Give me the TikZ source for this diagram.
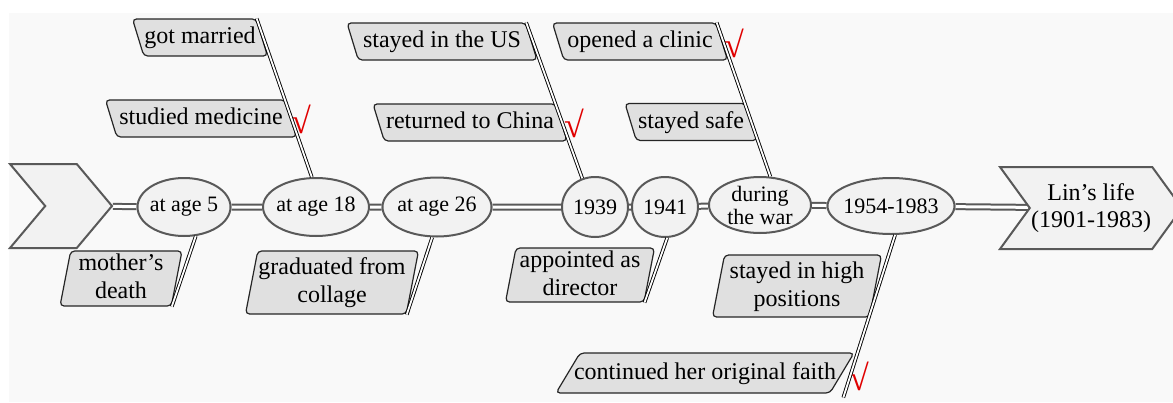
\documentclass[tikz,border=0pt]{standalone}
\usepackage{fontspec}
\setmainfont{Liberation Serif}
\usetikzlibrary{shapes.geometric,shapes.symbols,positioning,backgrounds}
\definecolor{bgcol}{HTML}{F9F9F9}
\definecolor{ovalfill}{HTML}{F2F2F2}
\definecolor{ovaldraw}{HTML}{595959}
\definecolor{boxfill}{HTML}{E0E0E0}
\definecolor{tickred}{HTML}{E00000}

\begin{document}
\begin{tikzpicture}[
x=0.5pt, y=-0.5pt,
oval/.style = {ellipse, draw=ovaldraw, fill=ovalfill, line width=1pt, inner xsep=-5pt, inner ysep=-4pt,
               font=\fontsize{11}{11.5}\selectfont, align=center},
box/.style = {trapezium, trapezium stretches body, draw=black!85, fill=boxfill, line width=0.6pt,
              rounded corners=2pt, inner xsep=0pt, align=center, text height=9pt, text depth=3pt,
              font=\fontsize{12}{14}\selectfont, minimum width=#1},
upbox/.style = {box=#1, inner ysep=3.25pt, trapezium left angle=107, trapezium right angle=73},
downbox/.style = {box=#1, text height=23pt, trapezium left angle=79, trapezium right angle=101},
arrowbox/.style = {signal, signal from=west, signal to=east, draw=ovaldraw, fill=ovalfill,
                   line width=1pt, inner sep=0pt, align=center, font=\fontsize{12}{13.5}\selectfont},
spine/.style = {draw=ovaldraw, line width=1pt, double=white, double distance=1.5pt},
link/.style = {draw=black, line width=0.45pt, double=white, double distance=0.9pt},
okmark/.style = {text=tickred, font=\fontsize{18}{18}\selectfont, inner sep=0pt}
                    ]
\useasboundingbox (0,0) rectangle (1173,402);

    \node[arrowbox, signal pointer angle=100, minimum width=51pt, minimum height=42pt] (start) at (61,206) {};
    \node[arrowbox, signal pointer angle=108, minimum width=91pt, minimum height=41pt] (life) at (1091,208)
        {Lin’s life\\(1901-1983)};

    \node[oval, minimum width=46.5pt, minimum height=29pt] (a5) at (184,207) {at age 5};
    \node[oval, minimum width=53pt, minimum height=29pt] (a18) at (316,207) {at age 18};
    \node[oval, minimum width=54.5pt, minimum height=29.5pt] (a26) at (437,207) {at age 26};
    \node[oval, minimum width=33pt, minimum height=30pt] (y39) at (595,207) {1939};
    \node[oval, minimum width=33pt, minimum height=30pt] (y41) at (665,207) {1941};
    \node[oval, minimum width=51pt, minimum height=28pt] (war) at (760,205) {during\\the war};
    \node[oval, minimum width=63.5pt, minimum height=28pt] (y54) at (891,206) {1954-1983};

    \node[upbox=67.5pt] (gm) at (200,37.5) {got married};
    \node[upbox=95.5pt] (sm) at (201,118.5) {studied medicine};
    \node[upbox=95pt] (us) at (442,41.5) {stayed in the US};
    \node[upbox=97pt] (rc) at (470,122.5) {returned to China};
    \node[upbox=87.5pt] (oc) at (640,41.5) {opened a clinic};
    \node[upbox=66pt] (ss) at (691,122) {stayed safe};

    \node[downbox=61pt, inner ysep=0.75pt] (md) at (121,278.5) {mother’s\\death};
    \node[downbox=86.5pt, inner ysep=2.75pt] (gc) at (332,282.5) {graduated from\\collage};
    \node[downbox=74.5pt, inner ysep=0.5pt] (ad) at (580,275) {appointed as\\director};
    \node[downbox=84.5pt, inner ysep=2.5pt] (hp) at (797,286) {stayed in high\\positions};
    \node[box=147pt, inner ysep=4pt, inner xsep=-3pt,
          trapezium left angle=59, trapezium right angle=121] (cf) at (705,373) {continued her original faith};

    \node[okmark] (smok) at (301,119) {√};
    \node[okmark] (rcok) at (574,123) {√};
    \node[okmark] (ocok) at (734,43) {√};
    \node[okmark] (cfok) at (859,376) {√};

    \begin{scope}[on background layer]
    \fill[bgcol] (9,13) rectangle (1173,402);
    \draw[spine] (start) -- (a5) -- (a18) -- (a26) -- (y39) -- (y41) -- (war) -- (y54) -- (life);
    \end{scope}

    \draw[link] (md.bottom right corner) -- (a5.-68);
    \draw[link] (gm.top right corner) -- (a18.98);
    \draw[link] (gc.bottom right corner) -- (a26.-99);
    \draw[link] (us.top right corner) -- (y39.114);
    \draw[link] (ad.bottom right corner) -- (y41.-86);
    \draw[link] (oc.top right corner) -- (war.70);
    \draw[link] ([shift={(13,4)}]cf.bottom right corner) -- (y54.-82);

\end{tikzpicture}
\end{document}
